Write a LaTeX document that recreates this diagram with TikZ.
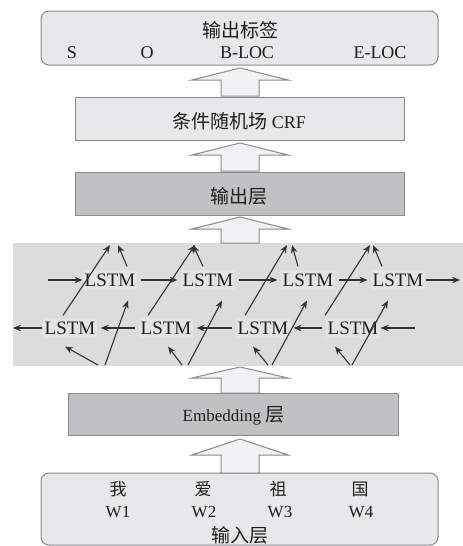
\documentclass[tikz,border=0pt]{standalone}
\usepackage{fontspec}
\setmainfont{Liberation Serif}
\newfontfamily\cjk{Noto Sans CJK SC}
\usetikzlibrary{arrows.meta,calc}
\definecolor{edgegray}{HTML}{8A8A8C}
\definecolor{lightbox}{HTML}{E8E8EA}
\definecolor{darkbox}{HTML}{C1C1C3}
\definecolor{regiongray}{HTML}{DCDCDD}
\definecolor{cellgray}{HTML}{E3E3E4}
\definecolor{arrowfill}{HTML}{F2F2F4}
\definecolor{inkgray}{HTML}{1E1E1E}
\definecolor{linegray}{HTML}{333333}
\tikzset{
  roundbox/.style={draw=edgegray, line width=1pt, fill=lightbox, rounded corners=8pt, inner sep=0pt},
  lightlayer/.style={draw=edgegray, line width=1pt, fill=lightbox, inner sep=0pt},
  darklayer/.style={draw=edgegray, line width=1pt, fill=darkbox, inner sep=0pt},
  txt/.style={text=inkgray, inner sep=0pt, font=\fontsize{19}{21}\selectfont},
  latintxt/.style={text=inkgray, inner sep=0pt, font=\fontsize{18}{20}\selectfont},
  wordtxt/.style={text=inkgray, inner sep=0pt, font=\fontsize{17}{19}\selectfont},
  cell/.style={fill=cellgray, text=inkgray, inner xsep=2pt, inner ysep=4pt, font=\fontsize{19}{21}\selectfont},
  arr/.style={draw=linegray, line width=1.1pt, -{Stealth[length=8pt,width=6.5pt]}},
  hop/.style={arr, shorten <=3pt, shorten >=3pt},
  bigarr/.style={draw=edgegray, line width=1pt, fill=arrowfill}
}
\newcommand{\blockarrow}[3]{\draw[bigarr] (192,#2) -- (240,#1) -- (288,#2) -- (259,#2) -- (259,#3) -- (221,#3) -- (221,#2) -- cycle;}
\begin{document}
\begin{tikzpicture}[x=1pt,y=-1pt]
\useasboundingbox (0,0) rectangle (463,546);

% output labels box
\node[roundbox, minimum width=397pt, minimum height=54pt] (outbox) at (239.5,38) {};
\node[txt] (outtitle) at (240,30) {\cjk 输出标签};
\node[latintxt] (lS) at (72,53) {S};
\node[latintxt] (lO) at (147,53) {O};
\node[latintxt] (lB) at (247,53) {B-LOC};
\node[latintxt] (lE) at (380,53) {E-LOC};

% CRF
\node[lightlayer, minimum width=329pt, minimum height=43pt] (crf) at (239.5,118.5) {};
\node[txt] (crftxt) at (239,121) {{\cjk 条件随机场} {\fontsize{18}{20}\selectfont CRF}};

% output layer
\node[darklayer, minimum width=329pt, minimum height=43pt] (outlayer) at (239.5,193.5) {};
\node[txt] (outlayertxt) at (239,196) {\cjk 输出层};

% BiLSTM region
\fill[regiongray] (13,243) rectangle (463,366);
\node[cell] (f1) at (110,280) {LSTM};
\node[cell] (f2) at (208,280) {LSTM};
\node[cell] (f3) at (308,280) {LSTM};
\node[cell] (f4) at (398,280) {LSTM};
\node[cell] (b1) at (70,328) {LSTM};
\node[cell] (b2) at (166,328) {LSTM};
\node[cell] (b3) at (263,328) {LSTM};
\node[cell] (b4) at (353,328) {LSTM};

\coordinate (inF) at (48,280);
\coordinate (outF) at (460,280);
\coordinate (inB) at (415,328);
\coordinate (outB) at (13,328);
\foreach \n/\xf/\xb/\of/\ob in {1/105/98/118/110, 2/188/182/193/195, 3/272/268/292/287, 4/352/350/373/370}{
  \coordinate (i\n f) at (\xf,365);
  \coordinate (i\n b) at (\xb,365);
  \coordinate (o\n f) at (\of,245);
  \coordinate (o\n b) at (\ob,245);
}

% forward chain
\draw[arr] (inF) -- (f1.west);
\draw[hop] (f1.east) -- (f2.west);
\draw[hop] (f2.east) -- (f3.west);
\draw[hop] (f3.east) -- (f4.west);
\draw[arr] (f4.east) -- (outF);
% backward chain
\draw[arr] (inB) -- (b4.east);
\draw[hop] (b4.west) -- (b3.east);
\draw[hop] (b3.west) -- (b2.east);
\draw[hop] (b2.west) -- (b1.east);
\draw[arr] (b1.west) -- (outB);

% column 1
\draw[arr] (i1f) -- ($(f1.south)+(18,10)$);
\draw[arr] (i1b) -- ($(b1.south)+(-5,8)$);
\draw[arr] ($(b1.north)+(-7,-2)$) -- (o1b);
\draw[arr] ($(f1.north)+(17,-3)$) -- (o1f);
% column 2
\draw[arr] (i2f) -- ($(f2.south)+(14,10)$);
\draw[arr] (i2b) -- ($(b2.south)+(2,8)$);
\draw[arr] ($(b2.north)+(-18,-2)$) -- (o2b);
\draw[arr] ($(f2.north)+(-5,-3)$) -- (o2f);
% column 3
\draw[arr] (i3f) -- ($(f3.south)+(-1,10)$);
\draw[arr] (i3b) -- ($(b3.south)+(-10,8)$);
\draw[arr] ($(b3.north)+(-18,-2)$) -- (o3b);
\draw[arr] ($(f3.north)+(-10,-3)$) -- (o3f);
% column 4
\draw[arr] (i4f) -- ($(f4.south)+(-10,10)$);
\draw[arr] (i4b) -- ($(b4.south)+(-18,8)$);
\draw[arr] ($(b4.north)+(-28,-2)$) -- (o4b);
\draw[arr] ($(f4.north)+(-16,-3)$) -- (o4f);

% embedding
\node[darklayer, minimum width=330pt, minimum height=42pt] (emb) at (233,414) {};
\node[wordtxt] (embtxt) at (233.5,416) {Embedding {\cjk\fontsize{19}{21}\selectfont 层}};

% input box
\node[roundbox, minimum width=397pt, minimum height=72pt] (inbox) at (239.5,509) {};
\node[wordtxt] (c1) at (118,489) {\cjk 我};
\node[wordtxt] (c2) at (203,489) {\cjk 爱};
\node[wordtxt] (c3) at (278,489) {\cjk 祖};
\node[wordtxt] (c4) at (360,489) {\cjk 国};
\node[wordtxt] (w1) at (118,512) {W1};
\node[wordtxt] (w2) at (204,512) {W2};
\node[wordtxt] (w3) at (280,512) {W3};
\node[wordtxt] (w4) at (361,512) {W4};
\node[txt] (intitle) at (240,535) {\cjk 输入层};

% block arrows
\blockarrow{68}{80}{96}
\blockarrow{143}{155}{171}
\blockarrow{217}{229}{243}
\blockarrow{367}{378}{393}
\blockarrow{439}{455}{473}
\end{tikzpicture}
\end{document}
